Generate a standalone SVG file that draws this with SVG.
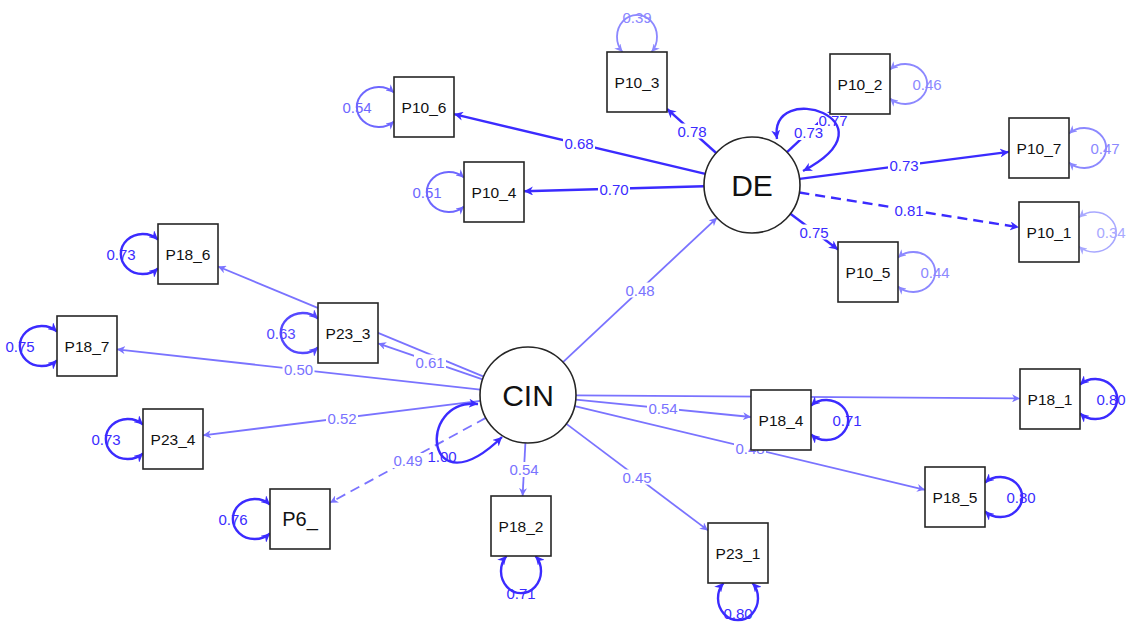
<svg xmlns="http://www.w3.org/2000/svg" width="1128" height="623" viewBox="0 0 1128 623">
<style>
.n rect,.n circle{fill:#fff;stroke:#262626;stroke-width:1.6}
.n text{font-family:"Liberation Sans",Arial,sans-serif;font-size:15.5px;fill:#111;text-anchor:middle}
.n text.big{font-size:30px}
.n text.mid{font-size:20px}
.e{fill:none}
.d{stroke:#3b2bff;stroke-width:2.4;marker-end:url(#mD)}
.l{stroke:#7a73ff;stroke-width:1.8;marker-end:url(#mL)}
.dash{stroke-dasharray:10,6}
.lp{fill:none;stroke-width:2.4}
.lpD{stroke:#3b2bff;marker-start:url(#mD);marker-end:url(#mD)}
.lpM{stroke:#5548ff;marker-start:url(#mM);marker-end:url(#mM)}
.lp5{stroke:#6e67ff;stroke-width:2;marker-start:url(#m5);marker-end:url(#m5)}
.lp4{stroke:#8c88ff;stroke-width:1.8;marker-start:url(#m4);marker-end:url(#m4)}
.lp3{stroke:#a8a8ff;stroke-width:1.6;marker-start:url(#m3);marker-end:url(#m3)}
.lb text{font-family:"Liberation Sans",Arial,sans-serif;font-size:15px;text-anchor:middle}
.lb rect{fill:#fff}
.tD{fill:#3b2bff}.tL{fill:#7a73ff}.tM{fill:#5548ff}.t5{fill:#6e67ff}.t4{fill:#8c88ff}.t3{fill:#a8a8ff}
</style>
<defs>
<marker id="mD" viewBox="0 0 10 10" refX="10" refY="5" markerWidth="9" markerHeight="9" markerUnits="userSpaceOnUse" orient="auto-start-reverse"><path d="M0,0 L10,5 L0,10 L3,5 z" fill="#3b2bff"/></marker>
<marker id="mL" viewBox="0 0 10 10" refX="10" refY="5" markerWidth="8" markerHeight="8" markerUnits="userSpaceOnUse" orient="auto-start-reverse"><path d="M0,0 L10,5 L0,10 L3,5 z" fill="#7a73ff"/></marker>
<marker id="mM" viewBox="0 0 10 10" refX="10" refY="5" markerWidth="9" markerHeight="9" markerUnits="userSpaceOnUse" orient="auto-start-reverse"><path d="M0,0 L10,5 L0,10 L3,5 z" fill="#5548ff"/></marker>
<marker id="m5" viewBox="0 0 10 10" refX="10" refY="5" markerWidth="8" markerHeight="8" markerUnits="userSpaceOnUse" orient="auto-start-reverse"><path d="M0,0 L10,5 L0,10 L3,5 z" fill="#6e67ff"/></marker>
<marker id="m4" viewBox="0 0 10 10" refX="10" refY="5" markerWidth="8" markerHeight="8" markerUnits="userSpaceOnUse" orient="auto-start-reverse"><path d="M0,0 L10,5 L0,10 L3,5 z" fill="#8c88ff"/></marker>
<marker id="m3" viewBox="0 0 10 10" refX="10" refY="5" markerWidth="8" markerHeight="8" markerUnits="userSpaceOnUse" orient="auto-start-reverse"><path d="M0,0 L10,5 L0,10 L3,5 z" fill="#a8a8ff"/></marker>
</defs>
<rect width="1128" height="623" fill="#fff"/>
<g id="connectors">
<path class="e d" d="M705.3,173.9 L454,114.1"/>
<path class="e d" d="M704,186.3 L524,191.2"/>
<path class="e d" d="M716.2,153 L667,108.9"/>
<path class="e d" d="M787,152.2 L830,112.1"/>
<path class="e d" d="M799.6,178.9 L1009,151.9"/>
<path class="e d dash" d="M799.4,192.5 L1019,227.3"/>
<path class="e d" d="M790.4,213.8 L838,249.5"/>
<path class="e l" d="M563,362.2 L717,217.8"/>
<path class="e l" d="M483.7,376.6 L218,266.5"/>
<path class="e l" d="M482.6,379.4 L378,343.3"/>
<path class="e l" d="M480.3,389.7 L117,349.3"/>
<path class="e l" d="M480.4,400.9 L203,435.3"/>
<path class="e l dash" d="M485.8,417.9 L330,502.7"/>
<path class="e l" d="M525.4,442.9 L522.6,496"/>
<path class="e l" d="M566.4,423.9 L708,530.4"/>
<path class="e l" d="M575.8,399.7 L751,417"/>
<path class="e l" d="M576,395.4 L1020,398.4"/>
<path class="e l" d="M574.7,406.2 L925,489.8"/>
<path class="lp lp5" d="M394,92.5 A22,20 0 1,0 394,121.5"/>
<path class="lp lp5" d="M464,177.5 A22,20 0 1,0 464,206.5"/>
<path class="lp lpD" d="M158,239.5 A22,20 0 1,0 158,268.5"/>
<path class="lp lpM" d="M318,318.5 A22,20 0 1,0 318,347.5"/>
<path class="lp lpD" d="M57,331.5 A22,20 0 1,0 57,360.5"/>
<path class="lp lpD" d="M143,424.5 A22,20 0 1,0 143,453.5"/>
<path class="lp lpD" d="M270,504.5 A22,20 0 1,0 270,533.5"/>
<path class="lp lp4" d="M890,69.5 A22,20 0 1,1 890,98.5"/>
<path class="lp lp4" d="M1069,133.5 A22,20 0 1,1 1069,162.5"/>
<path class="lp lp3" d="M1079,217.5 A22,20 0 1,1 1079,246.5"/>
<path class="lp lp4" d="M898,257.5 A22,20 0 1,1 898,286.5"/>
<path class="lp lpD" d="M811,405.5 A22,20 0 1,1 811,434.5"/>
<path class="lp lpD" d="M1080,384.5 A22,20 0 1,1 1080,413.5"/>
<path class="lp lpD" d="M985,482.5 A22,20 0 1,1 985,511.5"/>
<path class="lp lp4" d="M622.5,52 A20,22 0 1,1 651.5,52"/>
<path class="lp lpD" d="M506.5,556 A20,22 0 1,0 535.5,556"/>
<path class="lp lpD" d="M723.5,583 A20,22 0 1,0 752.5,583"/>
<path class="lp lpD" stroke-width="2.8" d="M478,404 C415,398 425,512 502,437"/>
</g>
<g id="edge-labels" class="lb">
<rect x="563" y="136" width="32" height="15"/><text class="tD" x="579" y="149">0.68</text>
<rect x="598" y="181.5" width="32" height="15"/><text class="tD" x="614" y="194.5">0.70</text>
<rect x="676" y="123.5" width="32" height="15"/><text class="tD" x="692" y="136.5">0.78</text>
<rect x="792.5" y="125" width="32" height="15"/><text class="tD" x="808.5" y="138">0.73</text>
<rect x="888" y="158" width="32" height="15"/><text class="tD" x="904" y="171">0.73</text>
<rect x="893" y="202.5" width="32" height="15"/><text class="tD" x="909" y="215.5">0.81</text>
<rect x="798" y="224.5" width="32" height="15"/><text class="tD" x="814" y="237.5">0.75</text>
<rect x="624" y="282.5" width="32" height="15"/><text class="tL" x="640" y="295.5">0.48</text>
<rect x="414" y="354.5" width="32" height="15"/><text class="tL" x="430" y="367.5">0.61</text>
<rect x="282.5" y="362" width="32" height="15"/><text class="tL" x="298.5" y="375">0.50</text>
<rect x="326" y="410.5" width="32" height="15"/><text class="tL" x="342" y="423.5">0.52</text>
<rect x="392" y="453" width="32" height="15"/><text class="tL" x="408" y="466">0.49</text>
<rect x="508" y="462" width="32" height="15"/><text class="tL" x="524" y="475">0.54</text>
<rect x="621" y="469.5" width="32" height="15"/><text class="tL" x="637" y="482.5">0.45</text>
<rect x="647" y="401" width="32" height="15"/><text class="tL" x="663" y="414">0.54</text>
<rect x="734" y="440.5" width="32" height="15"/><text class="tL" x="750" y="453.5">0.48</text>
<text class="t5" x="357" y="112.5">0.54</text>
<text class="t5" x="427" y="197.5">0.51</text>
<text class="tD" x="121" y="259.5">0.73</text>
<text class="tM" x="281" y="338.5">0.63</text>
<text class="tD" x="20" y="351.5">0.75</text>
<text class="tD" x="106" y="444.5">0.73</text>
<text class="tD" x="233" y="524.5">0.76</text>
<text class="t4" x="927" y="89.5">0.46</text>
<text class="t4" x="1105" y="153.5">0.47</text>
<text class="t3" x="1111" y="237.5">0.34</text>
<text class="t4" x="935" y="277.5">0.44</text>
<text class="tD" x="847" y="425.5">0.71</text>
<text class="tD" x="1111" y="404.5">0.80</text>
<text class="tD" x="1021" y="502.5">0.80</text>
<text class="t4" x="637" y="22.5">0.39</text>
<text class="tD" x="521" y="598.5">0.71</text>
<text class="tD" x="738" y="619">0.80</text>
<text class="tD" x="442" y="461.5">1.00</text>
<rect x="818" y="113" width="30" height="14"/><text class="tD" x="833" y="125.5">0.77</text>
</g>
<g id="de-loop">
<path class="lp lpD" d="M777,139 C768,78 900,120 803,171"/>
</g>
<g id="DE" class="n"><circle cx="752" cy="185" r="48"/><text class="big" x="752" y="195.5">DE</text></g>
<g id="CIN" class="n"><circle cx="528" cy="395" r="48"/><text class="big" x="528" y="405.5">CIN</text></g>
<g id="P10_6" class="n"><rect x="394" y="77" width="60" height="60"/><text x="424" y="112.5">P10_6</text></g>
<g id="P10_3" class="n"><rect x="607" y="52" width="60" height="60"/><text x="637" y="87.5">P10_3</text></g>
<g id="P10_4" class="n"><rect x="464" y="162" width="60" height="60"/><text x="494" y="197.5">P10_4</text></g>
<g id="P10_2" class="n"><rect x="830" y="54" width="60" height="60"/><text x="860" y="89.5">P10_2</text></g>
<g id="P10_7" class="n"><rect x="1009" y="118" width="60" height="60"/><text x="1039" y="153.5">P10_7</text></g>
<g id="P10_1" class="n"><rect x="1019" y="202" width="60" height="60"/><text x="1049" y="237.5">P10_1</text></g>
<g id="P10_5" class="n"><rect x="838" y="242" width="60" height="60"/><text x="868" y="277.5">P10_5</text></g>
<g id="P18_6" class="n"><rect x="158" y="224" width="60" height="60"/><text x="188" y="259.5">P18_6</text></g>
<g id="P23_3" class="n"><rect x="318" y="303" width="60" height="60"/><text x="348" y="338.5">P23_3</text></g>
<g id="P18_7" class="n"><rect x="57" y="316" width="60" height="60"/><text x="87" y="351.5">P18_7</text></g>
<g id="P23_4" class="n"><rect x="143" y="409" width="60" height="60"/><text x="173" y="444.5">P23_4</text></g>
<g id="P6_" class="n"><rect x="270" y="489" width="60" height="60"/><text class="mid" x="300" y="526">P6_</text></g>
<g id="P18_2" class="n"><rect x="491" y="496" width="60" height="60"/><text x="521" y="531.5">P18_2</text></g>
<g id="P23_1" class="n"><rect x="708" y="523" width="60" height="60"/><text x="738" y="558.5">P23_1</text></g>
<g id="P18_4" class="n"><rect x="751" y="390" width="60" height="60"/><text x="781" y="425.5">P18_4</text></g>
<g id="P18_1" class="n"><rect x="1020" y="369" width="60" height="60"/><text x="1050" y="404.5">P18_1</text></g>
<g id="P18_5" class="n"><rect x="925" y="467" width="60" height="60"/><text x="955" y="502.5">P18_5</text></g>
</svg>
